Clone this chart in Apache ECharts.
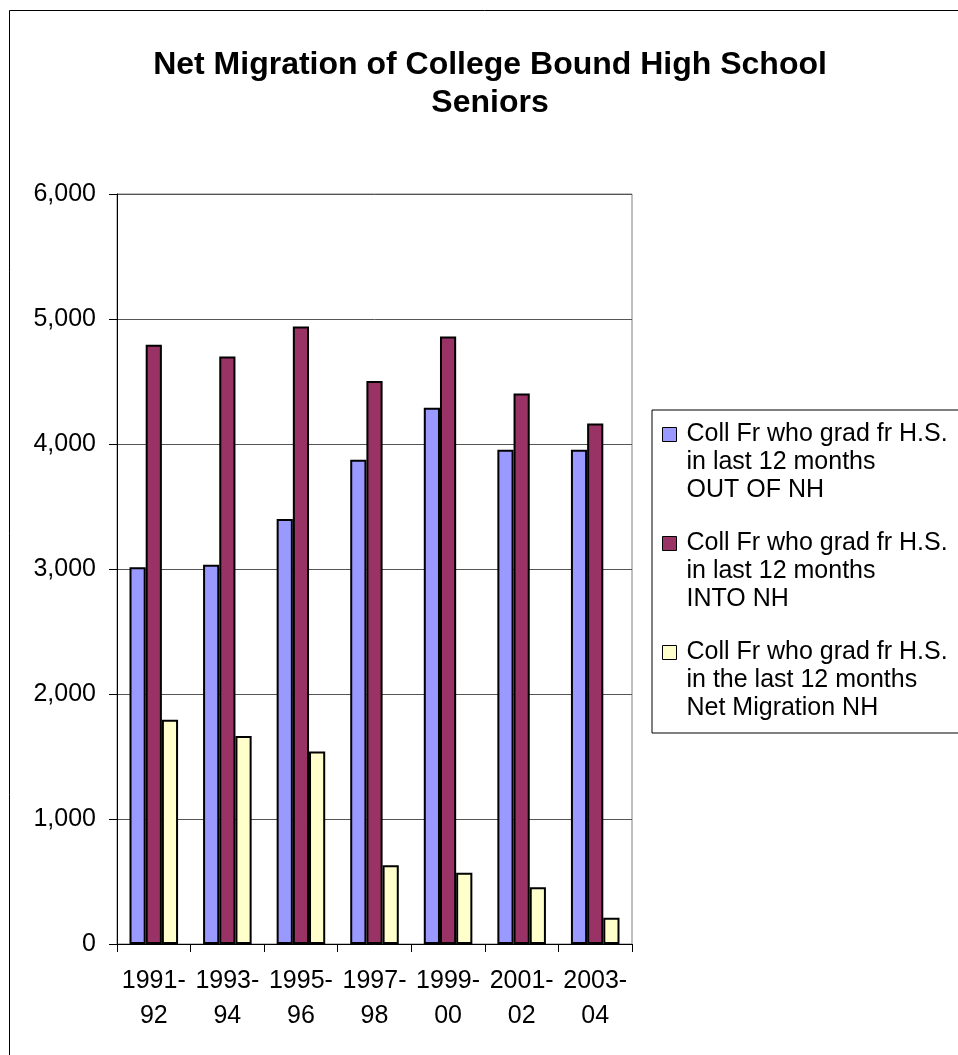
<!DOCTYPE html>
<html>
<head>
<meta charset="utf-8">
<style>
  html, body { margin: 0; padding: 0; background: #fff; }
  #chart { width: 958px; height: 1055px; }
</style>
<script src="https://cdn.jsdelivr.net/npm/echarts@6/dist/echarts.min.js"></script>
</head>
<body>
<div id="chart"></div>
<script>
// School-year periods on the category axis
var categories = ['1991-92', '1993-94', '1995-96', '1997-98', '1999-00', '2001-02', '2003-04'];

// College freshmen who graduated from high school in the last 12 months
var outOfNH = [3015, 3035, 3400, 3875, 4290, 3955, 3955];
var intoNH = [4795, 4700, 4940, 4505, 4860, 4405, 4165];
var netMigration = [1795, 1665, 1540, 630, 570, 455, 210];

var seriesNames = [
  'Coll Fr who grad fr H.S.\nin last 12 months\nOUT OF NH',
  'Coll Fr who grad fr H.S.\nin last 12 months\nINTO NH',
  'Coll Fr who grad fr H.S.\nin the last 12 months\nNet Migration NH'
];

var yTicks = { min: 0, max: 6000, interval: 1000 };

var FONT = '"Liberation Sans", Arial, Helvetica, sans-serif';

function thousands(v) {
  return String(v).replace(/\B(?=(\d{3})+(?!\d))/g, ',');
}

function barSeries(name, data, color) {
  return {
    name: name,
    type: 'bar',
    data: data,
    barGap: '0%',
    barCategoryGap: '34%',
    itemStyle: { color: color, borderColor: '#000', borderWidth: 2 },
    emphasis: { disabled: true }
  };
}

var chart = echarts.init(document.getElementById('chart'), null, { renderer: 'canvas' });

chart.setOption({
  animation: false,
  backgroundColor: '#fff',
  title: {
    text: 'Net Migration of College Bound High School\nSeniors',
    left: 490,
    top: 46,
    padding: 0,
    textAlign: 'center',
    textStyle: {
      fontFamily: FONT,
      fontSize: 32,
      fontWeight: 'bold',
      lineHeight: 38,
      color: '#000'
    }
  },
  graphic: [{
    type: 'rect',
    silent: true,
    shape: { x: 9.5, y: 10.5, width: 1000, height: 1100 },
    style: { fill: 'none', stroke: '#000', lineWidth: 1 }
  }],
  legend: {
    orient: 'vertical',
    left: 652,
    top: 410,
    padding: [10, 40, 10, 10],
    itemGap: 24,
    itemWidth: 19,
    itemHeight: 84,
    // square swatch sits beside the first line of each three-line entry
    icon: 'path://M0,0M0,7L14,7L14,21L0,21ZM19,84',
    itemStyle: { borderColor: '#000', borderWidth: 1 },
    borderColor: '#000',
    borderWidth: 1,
    backgroundColor: '#fff',
    selectedMode: false,
    textStyle: {
      fontFamily: FONT,
      fontSize: 25,
      lineHeight: 28,
      color: '#000'
    }
  },
  grid: {
    left: 117,
    top: 194,
    width: 515,
    height: 750,
    show: true,
    borderColor: '#808080',
    borderWidth: 1,
    backgroundColor: '#fff',
    containLabel: false,
    outerBoundsMode: 'none'
  },
  xAxis: {
    type: 'category',
    data: categories,
    boundaryGap: true,
    axisLine: { show: true, lineStyle: { color: '#000', width: 1 } },
    axisTick: { show: true, inside: false, length: 8, alignWithLabel: false, lineStyle: { color: '#000' } },
    axisLabel: {
      margin: 20,
      fontFamily: FONT,
      fontSize: 25,
      lineHeight: 35,
      color: '#000',
      interval: 0,
      formatter: function (v) { return v.replace('-', '-\n'); }
    },
    splitLine: { show: false }
  },
  yAxis: {
    type: 'value',
    min: yTicks.min,
    max: yTicks.max,
    interval: yTicks.interval,
    axisLine: { show: true, lineStyle: { color: '#000', width: 1 } },
    axisTick: { show: true, inside: false, length: 8, lineStyle: { color: '#000' } },
    axisLabel: {
      margin: 21,
      fontFamily: FONT,
      fontSize: 25,
      color: '#000',
      formatter: thousands
    },
    splitLine: { show: true, lineStyle: { color: '#555', width: 1 } }
  },
  series: [
    barSeries(seriesNames[0], outOfNH, '#9999FF'),
    barSeries(seriesNames[1], intoNH, '#993366'),
    barSeries(seriesNames[2], netMigration, '#FFFFCC')
  ]
});
</script>
</body>
</html>
